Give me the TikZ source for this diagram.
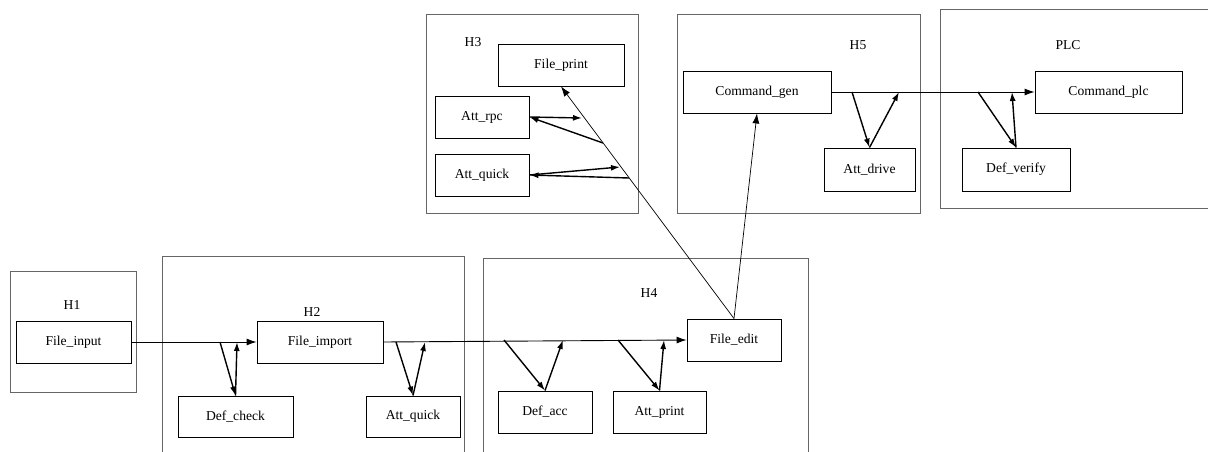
\documentclass[tikz,border=0pt]{standalone}
\usepackage{fontspec}
\setmainfont{Liberation Serif}
\usetikzlibrary{arrows.meta}
\begin{document}
\begin{tikzpicture}[x=1pt,y=-1pt,
  container/.style={draw=black!60,line width=0.9pt,fill=none},
  box/.style={draw=black,line width=0.9pt,inner sep=0pt,font=\fontsize{13.6}{16}\selectfont},
  lbl/.style={inner sep=0pt,font=\fontsize{13.6}{16}\selectfont},
  flow/.style={line width=0.9pt,-{Latex[length=10pt,width=7pt]}},
  fb/.style={line width=1.4pt,-{Latex[length=9pt,width=6pt]}},
  thin/.style={line width=0.7pt,-{Latex[length=10pt,width=7pt]}}]
\useasboundingbox (0,0) rectangle (1208,452);
% containers
\draw[container] (10,271) rectangle (136,392);
\draw[container] (162,256) rectangle (464,470);
\draw[container] (483,258) rectangle (808,470);
\draw[container] (426,14) rectangle (638,213);
\draw[container] (677,14) rectangle (920,213);
\draw[container] (940,9) rectangle (1230,208);
% container labels
\node[lbl] (lH1) at (72,305) {H1};
\node[lbl] (lH2) at (312,312) {H2};
\node[lbl] (lH4) at (649,293) {H4};
\node[lbl] (lH3) at (473,42) {H3};
\node[lbl] (lH5) at (858,45) {H5};
\node[lbl] (lPLC) at (1068,45) {PLC};
% nodes
\node[box,minimum width=115pt,minimum height=42pt] (fin) at (73.5,342) {File\_input};
\node[box,minimum width=126pt,minimum height=42pt] (fim) at (320,342) {File\_import};
\node[box,minimum width=115pt,minimum height=41pt] (dch) at (235.5,416.5) {Def\_check};
\node[box,minimum width=94pt,minimum height=41pt] (aq2) at (413,416.5) {Att\_quick};
\node[box,minimum width=94pt,minimum height=42pt] (fed) at (734,340) {File\_edit};
\node[box,minimum width=94pt,minimum height=42pt] (dac) at (545,412) {Def\_acc};
\node[box,minimum width=93pt,minimum height=42pt] (apr) at (659.5,412) {Att\_print};
\node[box,minimum width=126pt,minimum height=42pt] (fpr) at (561,65) {File\_print};
\node[box,minimum width=94pt,minimum height=42pt] (arp) at (482,117) {Att\_rpc};
\node[box,minimum width=94pt,minimum height=42pt] (aq3) at (482,175) {Att\_quick};
\node[box,minimum width=148pt,minimum height=42pt] (cg) at (757,92) {Command\_gen};
\node[box,minimum width=91pt,minimum height=43pt] (adr) at (869.5,169.5) {Att\_drive};
\node[box,minimum width=147pt,minimum height=42pt] (cpl) at (1108.5,92) {Command\_plc};
\node[box,minimum width=108pt,minimum height=43pt] (dve) at (1016,169.5) {Def\_verify};
% coordinates
\coordinate (a1) at (220,342);
\coordinate (a2) at (237,342);
\coordinate (b1) at (396,342);
\coordinate (b2) at (425,342);
\coordinate (c1) at (504,340);
\coordinate (c2) at (563,340);
\coordinate (d1) at (618,340);
\coordinate (d2) at (664,340);
\coordinate (e1) at (852,92);
\coordinate (e2) at (899,92);
\coordinate (f1) at (978,92);
\coordinate (f2) at (1012,92);
\coordinate (g1) at (582,118);
\coordinate (g2) at (603,143);
\coordinate (h1) at (620,167);
\coordinate (h2) at (629,178);
% main flow
\draw[flow] (fin.east) -- (fim.west);
\draw[flow] (fim.east) -- (fed.west);
\draw[flow] (cg.east) -- (cpl.west);
\draw[thin] (fed.north) -- (fpr.south);
\draw[thin] (fed.north) -- (cg.south);
% side checks
\draw[fb] (a1) -- (dch.north);
\draw[fb] (dch.north) -- (a2);
\draw[fb] (b1) -- (aq2.north);
\draw[fb] (aq2.north) -- (b2);
\draw[fb] (c1) -- (dac.north);
\draw[fb] (dac.north) -- (c2);
\draw[fb] (d1) -- (apr.north);
\draw[fb] (apr.north) -- (d2);
\draw[fb] (e1) -- (adr.north);
\draw[fb] (adr.north) -- (e2);
\draw[fb] (f1) -- (dve.north);
\draw[fb] (dve.north) -- (f2);
\draw[fb] (arp.east) -- (g1);
\draw[fb] (g2) -- (arp.east);
\draw[fb] (aq3.east) -- (h1);
\draw[fb] (h2) -- (aq3.east);
\end{tikzpicture}
\end{document}
